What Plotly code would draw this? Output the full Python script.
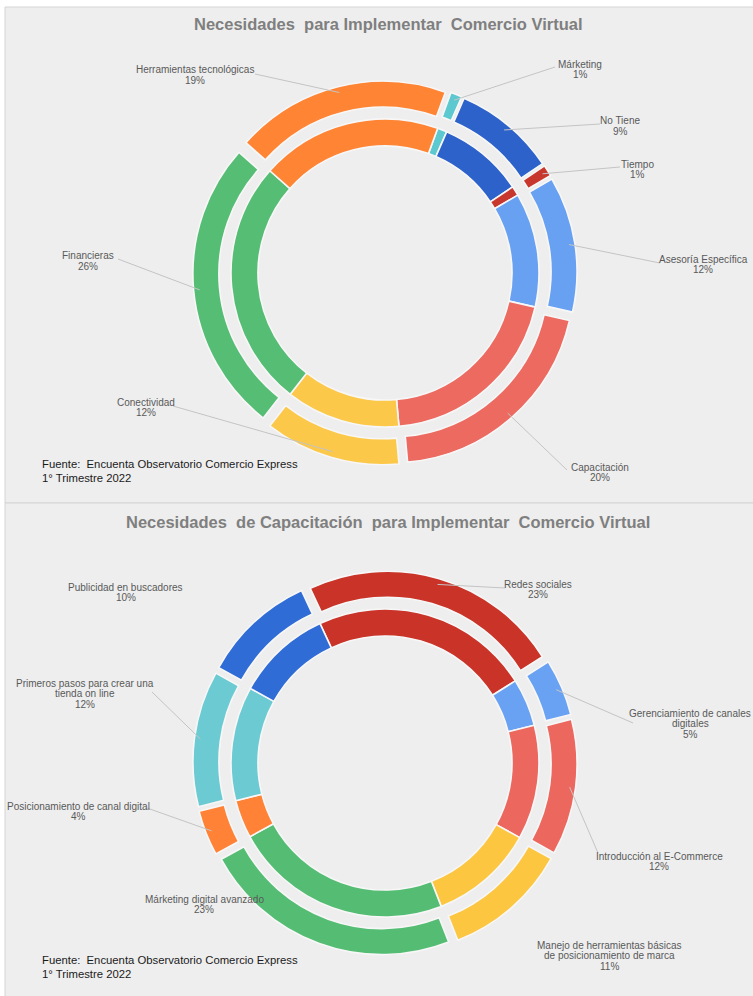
import math
import plotly.graph_objects as go

W, H = 753, 996

# ---------------- data ----------------
needs_labels = ["Márketing", "No Tiene", "Tiempo", "Asesoría Específica",
                "Capacitación", "Conectividad", "Financieras", "Herramientas tecnológicas"]
needs_values = [1, 9, 1, 12, 20, 12, 26, 19]
needs_colors = ["#5cc8cf", "#2c62c9", "#c8372d", "#68a0f2",
                "#ec6a60", "#fcc84a", "#56bd74", "#ff8433"]

train_labels = ["Redes sociales", "Gerenciamiento de canales digitales",
                "Introducción al E-Commerce",
                "Manejo de herramientas básicas de posicionamiento de marca",
                "Márketing digital avanzado", "Posicionamiento de canal digital",
                "Primeros pasos para crear una tienda on line", "Publicidad en buscadores"]
train_values = [23, 5, 12, 11, 23, 4, 12, 10]
train_colors = ["#c93328", "#6aa2f3", "#ec675e", "#fcc640",
                "#55bd73", "#ff8236", "#6ccbd2", "#2f6cd6"]

# label text as displayed (wrapped)
needs_lines = [["Márketing"], ["No Tiene"], ["Tiempo"], ["Asesoría Específica"],
               ["Capacitación"], ["Conectividad"], ["Financieras"], ["Herramientas tecnológicas"]]
train_lines = [["Redes sociales"], ["Gerenciamiento de canales", "digitales"],
               ["Introducción al E-Commerce"],
               ["Manejo de herramientas básicas", "de posicionamiento de marca"],
               ["Márketing digital avanzado"], ["Posicionamiento de canal digital"],
               ["Primeros pasos para crear una", "tienda on line"], ["Publicidad en buscadores"]]

title1 = "Necesidades  para Implementar  Comercio Virtual"
title2 = "Necesidades  de Capacitación  para Implementar  Comercio Virtual"
source_lines = ["Fuente:  Encuenta Observatorio Comercio Express", "1° Trimestre 2022"]

# ---------------- layout / style ----------------
CX = 385
CY1, CY2 = 273, 763
R_IN, HOLE_IN = 154, 0.825
R_OUT, HOLE_OUT = 183, 0.858
PULL = 0.05
ROT1, ROT2 = 20, -25
BG = "#eeeeee"
LABEL_COLOR = "#595959"
LINE_COLOR = "#c4c4c4"
FONT = "Liberation Sans, Arial, sans-serif"

# label positions (center x, first-line y) and leader-line start (None = no line)
needs_pos = [(580, 64), (620, 121), (637, 164), (703, 259), (600, 467), (146, 402), (88, 256), (195, 70)]
needs_lstart = [(555, 67), (600, 124), (620, 167), (660, 263), (567, 470), (173, 406), (118, 259), (255, 74)]
train_pos = [(538, 584), (690, 713), (659, 856), (609, 945), (204, 899), (78, 806), (85, 683), (126, 587)]
train_lstart = [(505, 588), (633, 723), (598, 853), None, None, (147, 808), (152, 692), None]

LINE_GAP = 10.5

fig = go.Figure()


def px_dom(cx, cy, h):
    return dict(x=[(cx - h) / W, (cx + h) / W], y=[1 - (cy + h) / H, 1 - (cy - h) / H])


def add_ring(cx, cy, R, hole, pull, rot, labels, values, colors):
    h = R * (1 + pull)
    fig.add_trace(go.Pie(
        labels=labels, values=values, hole=hole, pull=pull, rotation=rot,
        direction="clockwise", sort=False, textinfo="none",
        marker=dict(colors=colors, line=dict(color="#f7f7f7", width=1.6)),
        showlegend=False, hoverinfo="label+percent", domain=px_dom(cx, cy, h)))


def ann(x, y, text, size=10, color=LABEL_COLOR, bold=False, family=FONT, xanchor="center"):
    fig.add_annotation(x=x / W, y=1 - y / H, xref="paper", yref="paper",
                       text=f"<b>{text}</b>" if bold else text, showarrow=False,
                       xanchor=xanchor, yanchor="middle",
                       font=dict(size=size, color=color, family=family))


def line(x0, y0, x1, y1, color=LINE_COLOR, width=1):
    fig.add_shape(type="line", xref="paper", yref="paper",
                  x0=x0 / W, y0=1 - y0 / H, x1=x1 / W, y1=1 - y1 / H,
                  line=dict(color=color, width=width))


def chart(cy, rot, labels, values, colors, lines, pos, lstart, title, ty, src_y):
    add_ring(CX, cy, R_IN, HOLE_IN, 0, rot, labels, values, colors)
    add_ring(CX, cy, R_OUT, HOLE_OUT, PULL, rot, labels, values, colors)
    total = sum(values)
    cum = 0
    for i, v in enumerate(values):
        theta = math.radians(rot + 360 * (cum + v / 2) / total)
        cum += v
        r_end = R_OUT * (1 + PULL) - 6
        ex, ey = CX + r_end * math.sin(theta), cy - r_end * math.cos(theta)
        if lstart[i] is not None:
            line(lstart[i][0], lstart[i][1], ex, ey)
        lx, ly = pos[i]
        for k, t in enumerate(lines[i] + [f"{round(100 * v / total)}%"]):
            ann(lx, ly + k * LINE_GAP, t)
    ann(388, ty, title, size=16.5, color="#7f7f7f", bold=True)
    for k, t in enumerate(source_lines):
        ann(40, src_y + k * 14, t, size=11.3, color="#1a1a1a", xanchor="left")


# panels
fig.add_shape(type="rect", xref="paper", yref="paper", x0=5 / W, x1=1.01, y0=1 - 503 / H, y1=1 - 7 / H,
              fillcolor=BG, line=dict(color="#d4d4d4", width=1), layer="below")
fig.add_shape(type="rect", xref="paper", yref="paper", x0=5 / W, x1=1.01, y0=-0.01, y1=1 - 503 / H,
              fillcolor=BG, line=dict(color="#d4d4d4", width=1), layer="below")

chart(CY1, ROT1, needs_labels, needs_values, needs_colors, needs_lines, needs_pos, needs_lstart,
      title1, 24, 464)
chart(CY2, ROT2, train_labels, train_values, train_colors, train_lines, train_pos, train_lstart,
      title2, 522, 960)

fig.update_layout(width=W, height=H, margin=dict(l=0, r=0, t=0, b=0),
                  paper_bgcolor="white", plot_bgcolor="white", showlegend=False)

fig.write_html("out.html")
